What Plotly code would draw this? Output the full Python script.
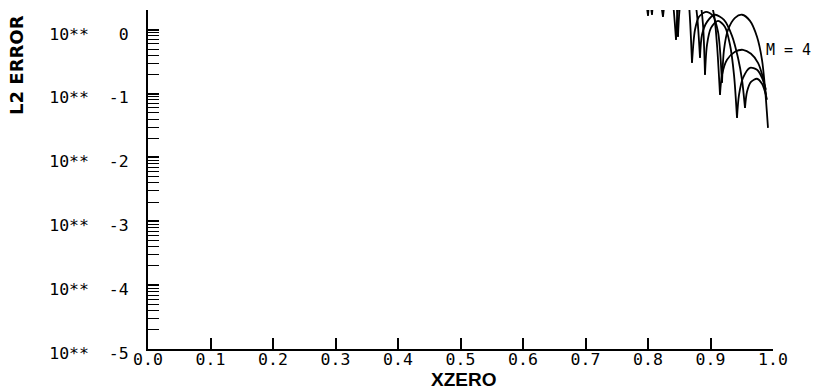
import plotly.graph_objects as go

# ---- data (XZERO vs L2 error); None separates arches ----
c1_x = [0.7632, 0.7808, 0.7920, 0.7968, 0.8000, None,
        0.8000, 0.8032, 0.8112, 0.8240, 0.8352, 0.8480, 0.8592, 0.8656, 0.8704, None,
        0.8704, 0.8752, 0.8816, 0.8928, 0.9040, 0.9120, 0.9152, 0.9184, None,
        0.9184, 0.9216, 0.9280, 0.9392, 0.9504, 0.9632, 0.9744, 0.9824, 0.9872, 0.9920]
c1_y = [76.0, 25.7, 7.28, 2.95, 1.66, None,
        1.66, 3.54, 8.11, 13.4, 15.0, 12.5, 7.28, 2.47, 0.304, None,
        0.304, 1.0, 1.60, 1.91, 1.66, 0.93, 0.486, 0.148, None,
        0.148, 0.486, 1.0, 1.54, 1.72, 1.38, 0.777, 0.339, 0.123, 0.0291]

c2_x = [0.7712, 0.7872, 0.7984, 0.8032, 0.8064, None,
        0.8064, 0.8096, 0.8160, 0.8272, 0.8384, 0.8448, 0.8480, None,
        0.8480, 0.8528, 0.8608, 0.8800, 0.8960, 0.9056, 0.9104, 0.9152, None,
        0.9152, 0.9184, 0.9264, 0.9392, 0.9520, 0.9648, 0.9760, 0.9840, 0.9888]
c2_y = [76.0, 21.5, 6.08, 2.95, 1.72, None,
        1.72, 3.54, 6.53, 8.72, 6.53, 3.29, 0.777, None,
        0.777, 2.95, 4.24, 4.89, 3.54, 1.72, 0.582, 0.0958, None,
        0.0958, 0.197, 0.339, 0.452, 0.486, 0.421, 0.304, 0.177, 0.0958]

c3_x = [0.7792, 0.7984, 0.8112, 0.8192, 0.8240, None,
        0.8240, 0.8288, 0.8384, 0.8576, 0.8736, 0.8832, 0.8880, 0.8912, None,
        0.8912, 0.8944, 0.9008, 0.9120, 0.9232, 0.9312, 0.9376, 0.9424, None,
        0.9424, 0.9456, 0.9520, 0.9632, 0.9744, 0.9824, 0.9888]
c3_y = [76.0, 21.5, 7.28, 3.17, 1.60, None,
        1.60, 3.54, 6.53, 8.72, 6.08, 2.95, 1.20, 0.197, None,
        0.197, 0.582, 1.07, 1.38, 1.11, 0.582, 0.197, 0.0418, None,
        0.0418, 0.0958, 0.177, 0.254, 0.236, 0.177, 0.115]

c4_x = [0.7872, 0.8112, 0.8288, 0.8384, 0.8448, None,
        0.8448, 0.8480, 0.8544, 0.8640, 0.8736, 0.8784, 0.8832, None,
        0.8832, 0.8864, 0.8944, 0.9072, 0.9216, 0.9344, 0.9440, 0.9504, 0.9552, None,
        0.9552, 0.9584, 0.9648, 0.9744, 0.9824, 0.9872, 0.9904]
c4_y = [76.0, 25.7, 8.72, 3.54, 0.697, None,
        0.697, 2.06, 3.54, 4.24, 3.29, 1.72, 0.364, None,
        0.364, 0.835, 1.33, 1.72, 1.43, 0.805, 0.364, 0.165, 0.0599, None,
        0.0599, 0.107, 0.153, 0.171, 0.143, 0.107, 0.0800]

x_ticks = [0.0, 0.1, 0.2, 0.3, 0.4, 0.5, 0.6, 0.7, 0.8, 0.9, 1.0]
x_labels = ["0.0", "0.1", "0.2", "0.3", "0.4", "0.5", "0.6", "0.7", "0.8", "0.9", "1.0"]
y_ticks = [1e-5, 1e-4, 1e-3, 1e-2, 1e-1, 1e0]
y_labels = ["10**  -5", "10**  -4", "10**  -3", "10**  -2", "10**  -1", "10**   0"]
curve_label = "M = 4"

minor_vals = [m * 10.0 ** e for e in range(-5, 1) for m in range(2, 10)]

fig = go.Figure()
for xs, ys in [(c1_x, c1_y), (c2_x, c2_y), (c3_x, c3_y), (c4_x, c4_y)]:
    fig.add_trace(go.Scatter(x=xs, y=ys, mode="lines", connectgaps=False,
                             line=dict(color="black", width=1.8, shape="spline", smoothing=0.8),
                             showlegend=False, hoverinfo="skip"))

mono = "DejaVu Sans Mono"
fig.update_layout(
    width=816, height=389, autosize=False,
    margin=dict(l=148, r=43, t=10, b=40, autoexpand=False),
    paper_bgcolor="white", plot_bgcolor="white",
    xaxis=dict(range=[0, 1], tickvals=x_ticks, ticktext=x_labels,
               ticks="inside", ticklen=11, tickwidth=1.5, tickcolor="black",
               showline=True, linecolor="black", linewidth=1.5,
               showgrid=False, zeroline=False, automargin=False,
               tickfont=dict(family=mono, size=16.5, color="black"),
               ticklabelstandoff=-6),
    yaxis=dict(type="log", range=[-5, 0.31], tickvals=y_ticks, ticktext=y_labels,
               ticks="inside", ticklen=11, tickwidth=1.5, tickcolor="black",
               showline=True, linecolor="black", linewidth=2,
               showgrid=False, zeroline=False, automargin=False,
               tickfont=dict(family=mono, size=16.5, color="black"),
               ticklabelstandoff=14, ticklabelshift=4,
               minor=dict(tickvals=minor_vals, ticks="inside", ticklen=11,
                          tickwidth=1.3, tickcolor="black", showgrid=False)),
    annotations=[
        dict(text="XZERO", xref="paper", yref="paper", x=0.504, y=-0.0914,
             xanchor="center", yanchor="middle", showarrow=False,
             font=dict(family="Liberation Sans", size=19, color="black", weight="bold")),
        dict(text="L2 ERROR", xref="paper", yref="paper", x=-0.2096, y=0.838,
             xanchor="center", yanchor="middle", textangle=-90, showarrow=False,
             font=dict(family="DejaVu Sans", size=18, color="black", weight="bold")),
        dict(text=curve_label, xref="paper", yref="paper", x=1.024, y=0.882,
             xanchor="center", yanchor="middle", showarrow=False,
             font=dict(family=mono, size=15, color="black")),
    ],
)

fig.write_html("out.html", config={"displayModeBar": False},
               post_script="document.body.style.margin='0px';")
